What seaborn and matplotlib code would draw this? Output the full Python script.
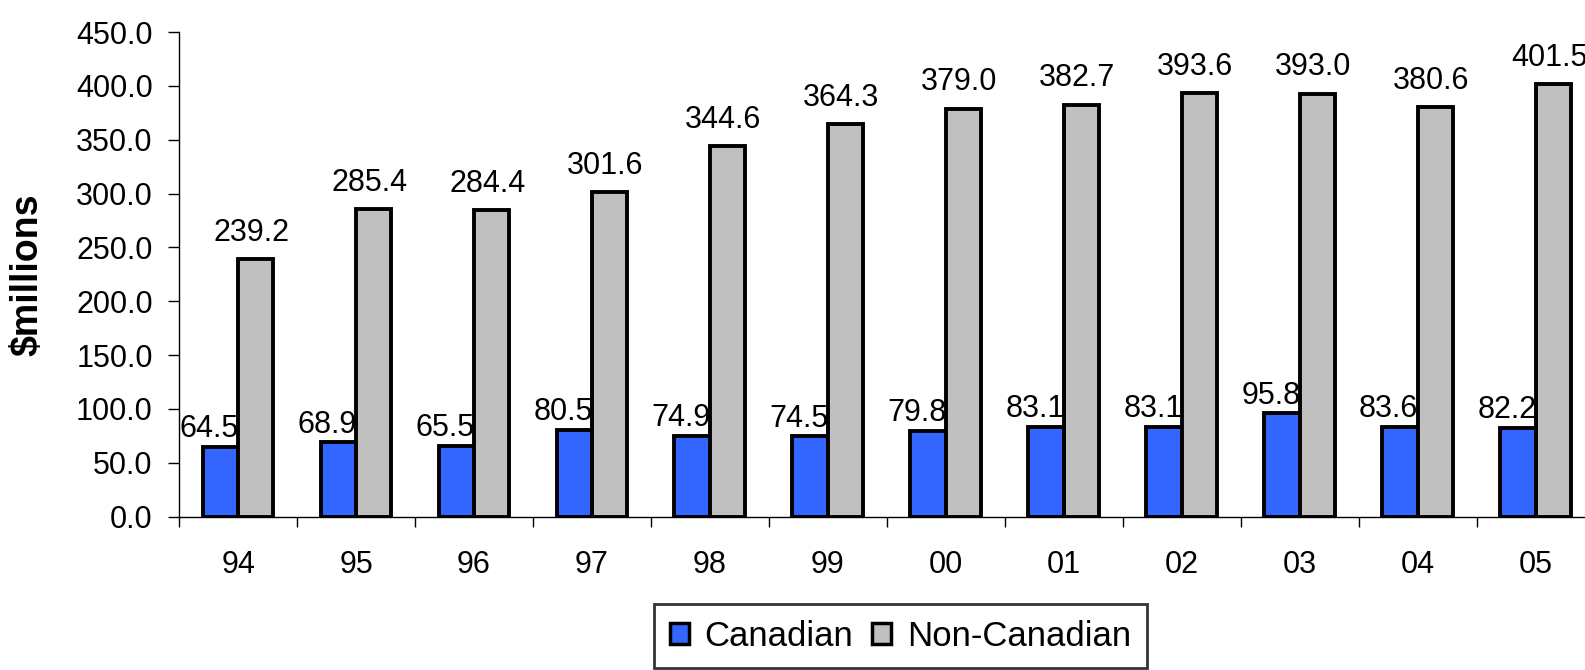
import pandas as pd
import numpy as np
import matplotlib.pyplot as plt
import seaborn as sns
from matplotlib.ticker import FixedLocator

# dados
anos = ['94', '95', '96', '97', '98', '99', '00', '01', '02', '03', '04', '05']
canadian = [64.5, 68.9, 65.5, 80.5, 74.9, 74.5, 79.8, 83.1, 83.1, 95.8, 83.6, 82.2]
non_canadian = [239.2, 285.4, 284.4, 301.6, 344.6, 364.3, 379.0, 382.7, 393.6, 393.0, 380.6, 401.5]
series = ['Canadian', 'Non-Canadian']
cores = ['#3366FF', '#C0C0C0']

df = pd.DataFrame({'ano': anos * 2,
                   'serie': [series[0]] * len(anos) + [series[1]] * len(anos),
                   'valor': canadian + non_canadian})

sns.set_style('white')
plt.rcParams['font.family'] = ['Liberation Sans', 'DejaVu Sans']
plt.rcParams['text.color'] = 'black'
plt.rcParams['xtick.color'] = 'black'
plt.rcParams['ytick.color'] = 'black'
plt.rcParams['axes.labelcolor'] = 'black'

fig = plt.figure(figsize=(15.85, 6.70), dpi=100)
ax = fig.add_axes([0.113, 0.229, 0.893, 0.723])

sns.barplot(data=df, x='ano', y='valor', hue='serie', palette=cores, width=0.6,
            edgecolor='black', linewidth=2.8, saturation=1, ax=ax, legend=False)

# rótulos
for cont, vals, dx, dy in [(ax.containers[0], canadian, -8, 2), (ax.containers[1], non_canadian, -3, 8)]:
    for barra, v in zip(cont, vals):
        ax.annotate(f'{v:.1f}', (barra.get_x() + barra.get_width() / 2, barra.get_height()),
                    xytext=(dx, dy), textcoords='offset points', ha='center', va='bottom',
                    fontsize=22, clip_on=False)

ax.set_ylim(0, 450)
ax.set_xlim(-0.5, len(anos) - 0.5)
ax.set_yticks(np.arange(0, 451, 50))
ax.set_yticklabels([f'{v:.1f}' for v in np.arange(0, 451, 50)], fontsize=22)
ax.tick_params(axis='y', direction='out', length=8, width=1, left=True, pad=11)
ax.tick_params(axis='x', which='major', length=0, labelsize=22, pad=24)
ax.xaxis.set_minor_locator(FixedLocator(np.arange(-0.5, len(anos), 1)))
ax.tick_params(axis='x', which='minor', direction='out', length=7, width=1, bottom=True)
ax.set_xlabel('')
ax.set_ylabel('$millions', fontsize=27, fontweight='bold', labelpad=22)

for s in ['top', 'right']:
    ax.spines[s].set_visible(False)
for s in ['left', 'bottom']:
    ax.spines[s].set_color('black')
    ax.spines[s].set_linewidth(1)

handles = [plt.Rectangle((0, 0), 1, 1, facecolor=c, edgecolor='black', linewidth=2.5) for c in cores]
leg = fig.legend(handles, series, loc='upper center', bbox_to_anchor=(0.568, 0.0985), ncol=2,
                 fontsize=25, frameon=True, fancybox=False, edgecolor='black',
                 handlelength=0.55, handleheight=0.55, handletextpad=0.45, columnspacing=0.55,
                 borderpad=0.45, borderaxespad=0)
leg.get_frame().set_linewidth(2)

plt.savefig('out.png', dpi=100)
